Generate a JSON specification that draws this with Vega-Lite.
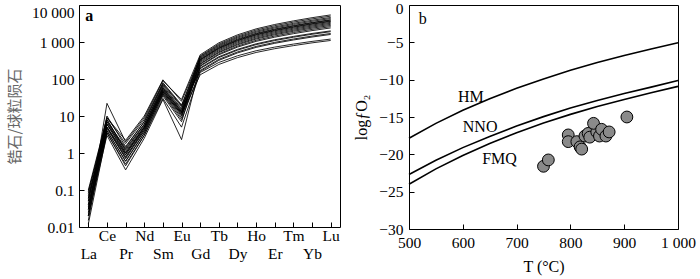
{
  "$schema": "https://vega.github.io/schema/vega-lite/v6.json",
  "autosize": {"type": "none"},
  "padding": {"left": 79, "top": 5, "right": 621, "bottom": 274},
  "background": "white",
  "bounds": "flush",
  "spacing": 69,
  "config": {
    "view": {"stroke": "black", "strokeWidth": 1},
    "axis": {
      "labelFont": "Liberation Serif", "labelFontSize": 15.5, "labelColor": "black",
      "titleFont": "Liberation Serif", "titleFontSize": 16, "titleFontWeight": "normal", "titleColor": "black",
      "tickColor": "black", "tickSize": -5, "tickWidth": 1, "domain": false, "grid": false,
      "labelFlush": false, "labelOverlap": false
    },
    "text": {"font": "Liberation Serif", "fontSize": 16, "color": "black"}
  },
  "datasets": {
    "ree": [
      {"s": 1, "La": 0.02, "Ce": 22, "Pr": 2.0, "Nd": 9, "Sm": 90, "Eu": 28, "Gd": 450, "Tb": 949, "Dy": 1559, "Ho": 2263, "Er": 2974, "Tm": 3719, "Yb": 4538, "Lu": 5400},
      {"s": 2, "La": 0.05, "Ce": 10, "Pr": 1.5, "Nd": 7, "Sm": 70, "Eu": 18, "Gd": 420, "Tb": 883, "Dy": 1449, "Ho": 2101, "Er": 2759, "Tm": 3448, "Yb": 4204, "Lu": 5000},
      {"s": 3, "La": 0.03, "Ce": 8, "Pr": 1.2, "Nd": 6, "Sm": 60, "Eu": 15, "Gd": 400, "Tb": 832, "Dy": 1356, "Ho": 1957, "Er": 2560, "Tm": 3189, "Yb": 3878, "Lu": 4600},
      {"s": 4, "La": 0.1, "Ce": 9, "Pr": 2.2, "Nd": 10, "Sm": 95, "Eu": 25, "Gd": 380, "Tb": 787, "Dy": 1278, "Ho": 1839, "Er": 2402, "Tm": 2988, "Yb": 3628, "Lu": 4300},
      {"s": 5, "La": 0.015, "Ce": 7, "Pr": 1.0, "Nd": 5, "Sm": 55, "Eu": 14, "Gd": 360, "Tb": 742, "Dy": 1200, "Ho": 1722, "Er": 2245, "Tm": 2788, "Yb": 3380, "Lu": 4000},
      {"s": 6, "La": 0.06, "Ce": 6, "Pr": 0.9, "Nd": 5, "Sm": 50, "Eu": 12, "Gd": 340, "Tb": 707, "Dy": 1152, "Ho": 1660, "Er": 2172, "Tm": 2705, "Yb": 3288, "Lu": 3900},
      {"s": 7, "La": 0.04, "Ce": 5, "Pr": 0.8, "Nd": 4, "Sm": 45, "Eu": 11, "Gd": 330, "Tb": 682, "Dy": 1105, "Ho": 1588, "Er": 2072, "Tm": 2575, "Yb": 3124, "Lu": 3700},
      {"s": 8, "La": 0.08, "Ce": 9, "Pr": 1.8, "Nd": 8, "Sm": 80, "Eu": 20, "Gd": 320, "Tb": 662, "Dy": 1073, "Ho": 1543, "Er": 2014, "Tm": 2504, "Yb": 3039, "Lu": 3600},
      {"s": 9, "La": 0.025, "Ce": 4, "Pr": 0.6, "Nd": 3.5, "Sm": 40, "Eu": 9, "Gd": 300, "Tb": 622, "Dy": 1010, "Ho": 1454, "Er": 1898, "Tm": 2362, "Yb": 2869, "Lu": 3400},
      {"s": 10, "La": 0.012, "Ce": 3.5, "Pr": 0.5, "Nd": 3, "Sm": 35, "Eu": 7, "Gd": 280, "Tb": 582, "Dy": 947, "Ho": 1364, "Er": 1783, "Tm": 2221, "Yb": 2698, "Lu": 3200},
      {"s": 11, "La": 0.03, "Ce": 5, "Pr": 0.7, "Nd": 4, "Sm": 42, "Eu": 10, "Gd": 260, "Tb": 542, "Dy": 883, "Ho": 1275, "Er": 1668, "Tm": 2079, "Yb": 2528, "Lu": 3000},
      {"s": 12, "La": 0.07, "Ce": 6, "Pr": 1.3, "Nd": 6, "Sm": 65, "Eu": 16, "Gd": 250, "Tb": 516, "Dy": 836, "Ho": 1202, "Er": 1568, "Tm": 1949, "Yb": 2365, "Lu": 2800},
      {"s": 13, "La": 0.02, "Ce": 3, "Pr": 0.35, "Nd": 2.5, "Sm": 28, "Eu": 2.3, "Gd": 230, "Tb": 476, "Dy": 773, "Ho": 1112, "Er": 1453, "Tm": 1807, "Yb": 2194, "Lu": 2600},
      {"s": 14, "La": 0.05, "Ce": 8, "Pr": 1.1, "Nd": 5.5, "Sm": 58, "Eu": 13, "Gd": 220, "Tb": 451, "Dy": 727, "Ho": 1040, "Er": 1352, "Tm": 1677, "Yb": 2031, "Lu": 2400},
      {"s": 15, "La": 0.035, "Ce": 4.5, "Pr": 0.75, "Nd": 4.5, "Sm": 48, "Eu": 12, "Gd": 200, "Tb": 399, "Dy": 632, "Ho": 893, "Er": 1151, "Tm": 1416, "Yb": 1702, "Lu": 2000},
      {"s": 16, "La": 0.04, "Ce": 6, "Pr": 1.0, "Nd": 5, "Sm": 52, "Eu": 13, "Gd": 190, "Tb": 379, "Dy": 601, "Ho": 849, "Er": 1093, "Tm": 1345, "Yb": 1617, "Lu": 1900},
      {"s": 17, "La": 0.02, "Ce": 4, "Pr": 0.6, "Nd": 3.5, "Sm": 38, "Eu": 8, "Gd": 170, "Tb": 339, "Dy": 538, "Ho": 759, "Er": 978, "Tm": 1203, "Yb": 1447, "Lu": 1700},
      {"s": 18, "La": 0.09, "Ce": 7, "Pr": 1.4, "Nd": 7, "Sm": 75, "Eu": 19, "Gd": 160, "Tb": 319, "Dy": 506, "Ho": 715, "Er": 921, "Tm": 1133, "Yb": 1362, "Lu": 1600},
      {"s": 19, "La": 0.03, "Ce": 3.5, "Pr": 0.45, "Nd": 3, "Sm": 30, "Eu": 5, "Gd": 150, "Tb": 280, "Dy": 424, "Ho": 580, "Er": 729, "Tm": 878, "Yb": 1038, "Lu": 1200},
      {"s": 20, "La": 0.06, "Ce": 5, "Pr": 0.9, "Nd": 4.5, "Sm": 45, "Eu": 11, "Gd": 130, "Tb": 247, "Dy": 378, "Ho": 521, "Er": 659, "Tm": 798, "Yb": 948, "Lu": 1100}
    ],
    "buf": [
      {"b": "HM", "t": 500, "v": -17.85}, {"b": "HM", "t": 550, "v": -15.85}, {"b": "HM", "t": 600, "v": -14.1},
      {"b": "HM", "t": 650, "v": -12.55}, {"b": "HM", "t": 700, "v": -11.15}, {"b": "HM", "t": 750, "v": -9.9},
      {"b": "HM", "t": 800, "v": -8.75}, {"b": "HM", "t": 850, "v": -7.7}, {"b": "HM", "t": 900, "v": -6.75},
      {"b": "HM", "t": 950, "v": -5.88}, {"b": "HM", "t": 1000, "v": -5.05},
      {"b": "NNO", "t": 500, "v": -22.7}, {"b": "NNO", "t": 550, "v": -20.8}, {"b": "NNO", "t": 600, "v": -19.1},
      {"b": "NNO", "t": 650, "v": -17.6}, {"b": "NNO", "t": 700, "v": -16.2}, {"b": "NNO", "t": 750, "v": -14.95},
      {"b": "NNO", "t": 800, "v": -13.8}, {"b": "NNO", "t": 850, "v": -12.8}, {"b": "NNO", "t": 900, "v": -11.85},
      {"b": "NNO", "t": 950, "v": -11.0}, {"b": "NNO", "t": 1000, "v": -10.1},
      {"b": "FMQ", "t": 500, "v": -24.0}, {"b": "FMQ", "t": 550, "v": -21.95}, {"b": "FMQ", "t": 600, "v": -20.15},
      {"b": "FMQ", "t": 650, "v": -18.55}, {"b": "FMQ", "t": 700, "v": -17.1}, {"b": "FMQ", "t": 750, "v": -15.8},
      {"b": "FMQ", "t": 800, "v": -14.65}, {"b": "FMQ", "t": 850, "v": -13.6}, {"b": "FMQ", "t": 900, "v": -12.65},
      {"b": "FMQ", "t": 950, "v": -11.75}, {"b": "FMQ", "t": 1000, "v": -10.9}
    ],
    "pts": [
      {"t": 750, "v": -21.6}, {"t": 759, "v": -20.75}, {"t": 796, "v": -17.4}, {"t": 796, "v": -18.3},
      {"t": 812, "v": -18.3}, {"t": 818, "v": -19.0}, {"t": 821, "v": -19.3}, {"t": 827, "v": -17.55},
      {"t": 833, "v": -17.2}, {"t": 836, "v": -17.7}, {"t": 849, "v": -17.0}, {"t": 854, "v": -17.55},
      {"t": 843, "v": -15.85}, {"t": 858, "v": -16.65}, {"t": 866, "v": -17.55}, {"t": 872, "v": -17.0},
      {"t": 905, "v": -15.0}
    ],
    "labB": [
      {"t": 591, "v": -12.3, "txt": "HM", "w": "normal"},
      {"t": 600, "v": -16.4, "txt": "NNO", "w": "normal"},
      {"t": 636, "v": -20.6, "txt": "FMQ", "w": "normal"},
      {"t": 518, "v": -1.9, "txt": "b", "w": "bold"}
    ]
  },
  "hconcat": [
    {
      "width": 261,
      "height": 222,
      "layer": [
        {
          "data": {"name": "ree"},
          "transform": [{"fold": ["La", "Ce", "Pr", "Nd", "Sm", "Eu", "Gd", "Tb", "Dy", "Ho", "Er", "Tm", "Yb", "Lu"], "as": ["el", "v"]}],
          "mark": {"type": "line", "color": "black", "strokeWidth": 0.85},
          "encoding": {
            "x": {
              "field": "el", "type": "nominal",
              "scale": {"type": "point", "domain": ["La", "Ce", "Pr", "Nd", "Sm", "Eu", "Gd", "Tb", "Dy", "Ho", "Er", "Tm", "Yb", "Lu"], "padding": 0.5},
              "axis": {
                "title": null, "labelAngle": 0, "labelBaseline": "top",
                "labelPadding": {"condition": {"test": "indexof(['La','Pr','Sm','Gd','Dy','Er','Yb'], datum.value) >= 0", "value": 24}, "value": 6}
              }
            },
            "y": {
              "field": "v", "type": "quantitative",
              "scale": {"type": "log", "domain": [0.01, 10000]},
              "axis": {
                "values": [0.01, 0.1, 1, 10, 100, 1000, 10000],
                "labelExpr": "datum.value < 0.05 ? '0.01' : datum.value < 0.5 ? '0.1' : datum.value < 5 ? '1' : datum.value < 50 ? '10' : datum.value < 500 ? '100' : datum.value < 5000 ? '1 000' : '10 000'",
                "labelPadding": 10,
                "labelBaseline": {"condition": {"test": "datum.value > 5000", "value": "top"}, "value": "middle"},
                "title": "锆石/球粒陨石",
                "titleFont": "Noto Sans CJK SC", "titleFontSize": 15, "titleColor": "#666666",
                "titleX": -65, "titleBaseline": "middle"
              }
            },
            "detail": {"field": "s"},
            "order": {"value": null}
          }
        },
        {
          "data": {"values": [{"el": "La", "v": 5000, "txt": "a"}]},
          "mark": {"type": "text", "align": "left", "baseline": "middle", "fontWeight": "bold", "dx": -3},
          "encoding": {
            "x": {"field": "el", "type": "nominal"},
            "y": {"field": "v", "type": "quantitative"},
            "text": {"field": "txt"}
          }
        }
      ]
    },
    {
      "width": 269,
      "height": 224,
      "encoding": {
        "x": {
          "field": "t", "type": "quantitative",
          "scale": {"domain": [500, 1000]},
          "axis": {
            "values": [500, 600, 700, 800, 900, 1000],
            "labelExpr": "datum.value == 1000 ? '1 000' : datum.label",
            "labelPadding": 11,
            "title": "T (°C)", "titlePadding": 8
          }
        },
        "y": {
          "field": "v", "type": "quantitative",
          "scale": {"domain": [-30, 0]},
          "axis": {
            "values": [-30, -25, -20, -15, -10, -5, 0],
            "tickCount": 7,
            "labelPadding": 11,
            "labelOffset": {"condition": {"test": "datum.value == 0", "value": 3}, "value": 0},
            "title": "logƒO₂", "titleX": -48, "titleBaseline": "middle"
          }
        }
      },
      "layer": [
        {
          "data": {"name": "buf"},
          "mark": {"type": "line", "color": "black", "strokeWidth": 1.6},
          "encoding": {
            "detail": {"field": "b"}
          }
        },
        {
          "data": {"name": "pts"},
          "mark": {"type": "point", "shape": "circle", "filled": true, "fill": "#8a8a8a", "stroke": "black", "strokeWidth": 1, "size": 140, "opacity": 1}
        },
        {
          "data": {"name": "labB"},
          "mark": {"type": "text", "align": "left", "baseline": "middle"},
          "encoding": {
            "text": {"field": "txt"},
            "fontWeight": {"field": "w", "type": "nominal", "scale": null}
          }
        }
      ]
    }
  ]
}
